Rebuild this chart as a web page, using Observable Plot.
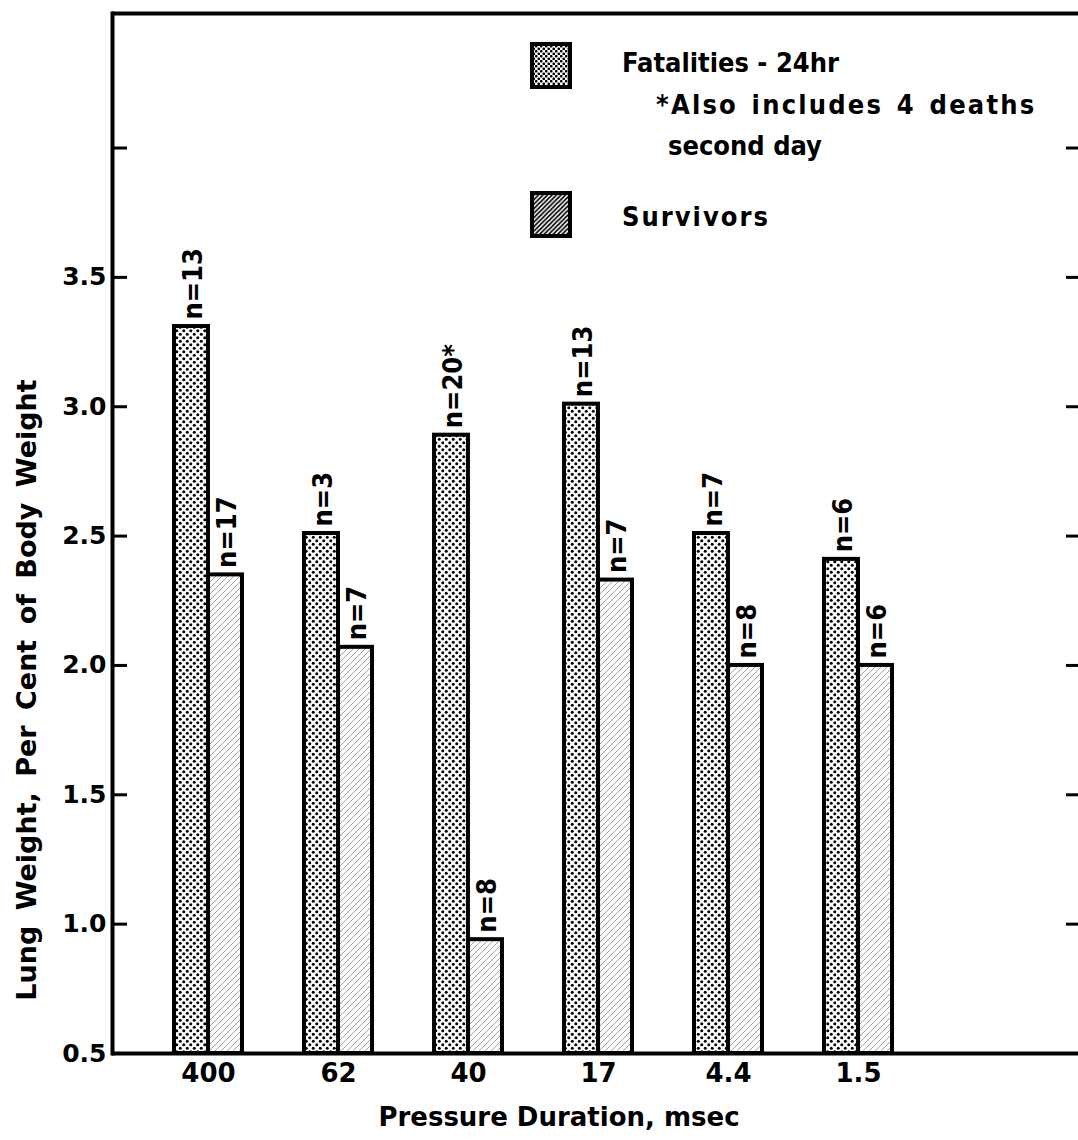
<!DOCTYPE html>
<html>
<head>
<meta charset="utf-8">
<script src="https://cdn.jsdelivr.net/npm/d3@7"></script>
<script src="https://cdn.jsdelivr.net/npm/@observablehq/plot@0.6"></script>
<style>
  body { margin: 0; background: #fff; }
  #chart { width: 1078px; height: 1140px; }
</style>
</head>
<body>
<div id="chart"></div>
<script>
// Pressure durations (msec), one group of two bars each
const durations = ["400", "62", "40", "17", "4.4", "1.5"];
// Lung weight, per cent of body weight
const fatalities = [3.31, 2.51, 2.89, 3.01, 2.51, 2.41];
const survivors = [2.35, 2.07, 0.94, 2.33, 2.0, 2.0];
// Group sizes printed above the bars
const fatalN = ["n=13", "n=3", "n=20*", "n=13", "n=7", "n=6"];
const survivorN = ["n=17", "n=7", "n=8", "n=7", "n=8", "n=6"];
// Y axis ticks and labels
const yTicks = [1.0, 1.5, 2.0, 2.5, 3.0, 3.5, 4.0];
const yLabels = [0.5, 1.0, 1.5, 2.0, 2.5, 3.0, 3.5];
// Legend entries
const legendItems = ["Fatalities - 24hr", "Survivors"];
const legendNote = ["*Also includes 4 deaths", "second day"];
const xTitle = "Pressure Duration, msec";
const yTitle = "Lung Weight, Per Cent of Body Weight";

const W = 1078, H = 1140;
const mLeft = 112, mTop = 13, mBottom = 87, mRight = 0;
const yBase = 0.5, yTop = 4.52;
const xRange = [110, 955];
const xPad = 0.478;
const bandwidth = d3.scaleBand().domain(durations).range(xRange).padding(xPad).bandwidth();
const half = bandwidth / 2;
const frameW = W - mLeft - mRight;

const rows = durations.map((d, i) => ({
  duration: d,
  fatal: fatalities[i],
  survive: survivors[i],
  nFatal: fatalN[i],
  nSurvive: survivorN[i]
}));

const labelFont = "'DejaVu Sans Condensed', 'DejaVu Sans', sans-serif";
const nStyle = {rotate: -90, textAnchor: "start", dy: -7, fontFamily: labelFont, fontSize: 27, fontWeight: "bold"};

const plot = Plot.plot({
  width: W,
  height: H,
  marginLeft: mLeft,
  marginRight: mRight,
  marginTop: mTop,
  marginBottom: mBottom,
  style: {
    fontFamily: "'DejaVu Sans', sans-serif",
    fontWeight: "bold",
    fontSize: "25px",
    color: "#000",
    background: "#fff",
    overflow: "visible"
  },
  x: {domain: durations, range: xRange, padding: xPad},
  y: {domain: [yBase, yTop]},
  marks: [
    Plot.barY(rows, {x: "duration", y1: yBase, y2: "fatal", fill: "url(#dots)", stroke: "#000", strokeWidth: 4, insetRight: half}),
    Plot.barY(rows, {x: "duration", y1: yBase, y2: "survive", fill: "url(#hatch)", stroke: "#000", strokeWidth: 4, insetLeft: half}),
    Plot.text(rows, {x: "duration", y: "fatal", text: "nFatal", dx: -half / 2 + 2, ...nStyle}),
    Plot.text(rows, {x: "duration", y: "survive", text: "nSurvive", dx: half / 2 + 2, ...nStyle}),
    Plot.axisX({tickSize: 0, tickPadding: 10, fontSize: 26, label: null}),
    Plot.axisY(yLabels, {tickSize: 0, tickPadding: 6, tickFormat: d3.format(".1f"), fontSize: 25, label: null}),
    // inward ticks on the left and right edges
    Plot.tickY(yTicks, {y: d => d, strokeWidth: 3, insetRight: frameW - 15}),
    Plot.tickY(yTicks, {y: d => d, strokeWidth: 3, insetLeft: frameW - 12}),
    Plot.ruleY([yBase, yTop], {strokeWidth: 4}),
    Plot.frame({anchor: "left", strokeWidth: 4})
  ]
});

const svg = d3.select(plot);
const defs = svg.insert("defs", ":first-child");

// stipple fill for the fatality bars
function dots(id, size, r, color) {
  const p = defs.append("pattern").attr("id", id).attr("patternUnits", "userSpaceOnUse")
    .attr("width", size).attr("height", size);
  p.append("rect").attr("width", size).attr("height", size).attr("fill", "#fff");
  p.append("circle").attr("cx", size / 4).attr("cy", size / 4).attr("r", r).attr("fill", color);
  p.append("circle").attr("cx", size * 3 / 4).attr("cy", size * 3 / 4).attr("r", r).attr("fill", color);
}
// diagonal hatching for the survivor bars
function hatch(id, size, w, color) {
  const p = defs.append("pattern").attr("id", id).attr("patternUnits", "userSpaceOnUse")
    .attr("width", size).attr("height", size);
  p.append("rect").attr("width", size).attr("height", size).attr("fill", "#fff");
  p.append("path")
    .attr("d", `M0,${size} L${size},0 M${-size / 2},${size / 2} L${size / 2},${-size / 2} M${size / 2},${size * 1.5} L${size * 1.5},${size / 2}`)
    .attr("stroke", color).attr("stroke-width", w);
}
dots("dots", 7, 1.5, "#000");
hatch("hatch", 6, 0.8, "#8a8a8a");
dots("dotsKey", 5, 1.35, "#000");
hatch("hatchKey", 4.5, 1.7, "#000");

// axis titles
svg.append("text")
  .attr("x", 559).attr("y", 1126)
  .attr("text-anchor", "middle")
  .attr("font-size", 26).attr("font-weight", "bold")
  .attr("fill", "#000")
  .text(xTitle);

svg.append("text")
  .attr("transform", "translate(36,690) rotate(-90)")
  .attr("text-anchor", "middle")
  .attr("font-size", 27).attr("font-weight", "bold")
  .attr("word-spacing", 6)
  .attr("fill", "#000")
  .text(yTitle);

// legend
const key = svg.append("g")
  .attr("font-family", labelFont).attr("font-weight", "bold").attr("font-size", 27)
  .attr("text-anchor", "start").attr("fill", "#000");
key.append("rect").attr("x", 532).attr("y", 44).attr("width", 38).attr("height", 43)
  .attr("fill", "url(#dotsKey)").attr("stroke", "#000").attr("stroke-width", 4);
key.append("rect").attr("x", 532).attr("y", 193).attr("width", 38).attr("height", 43)
  .attr("fill", "url(#hatchKey)").attr("stroke", "#000").attr("stroke-width", 4);
key.append("text").attr("x", 622).attr("y", 72).text(legendItems[0]);
key.append("text").attr("x", 656).attr("y", 114).attr("letter-spacing", 2.2).attr("word-spacing", 3).text(legendNote[0]);
key.append("text").attr("x", 668).attr("y", 155).text(legendNote[1]);
key.append("text").attr("x", 622).attr("y", 226).attr("letter-spacing", 2).text(legendItems[1]);

document.getElementById("chart").append(plot);
</script>
</body>
</html>
